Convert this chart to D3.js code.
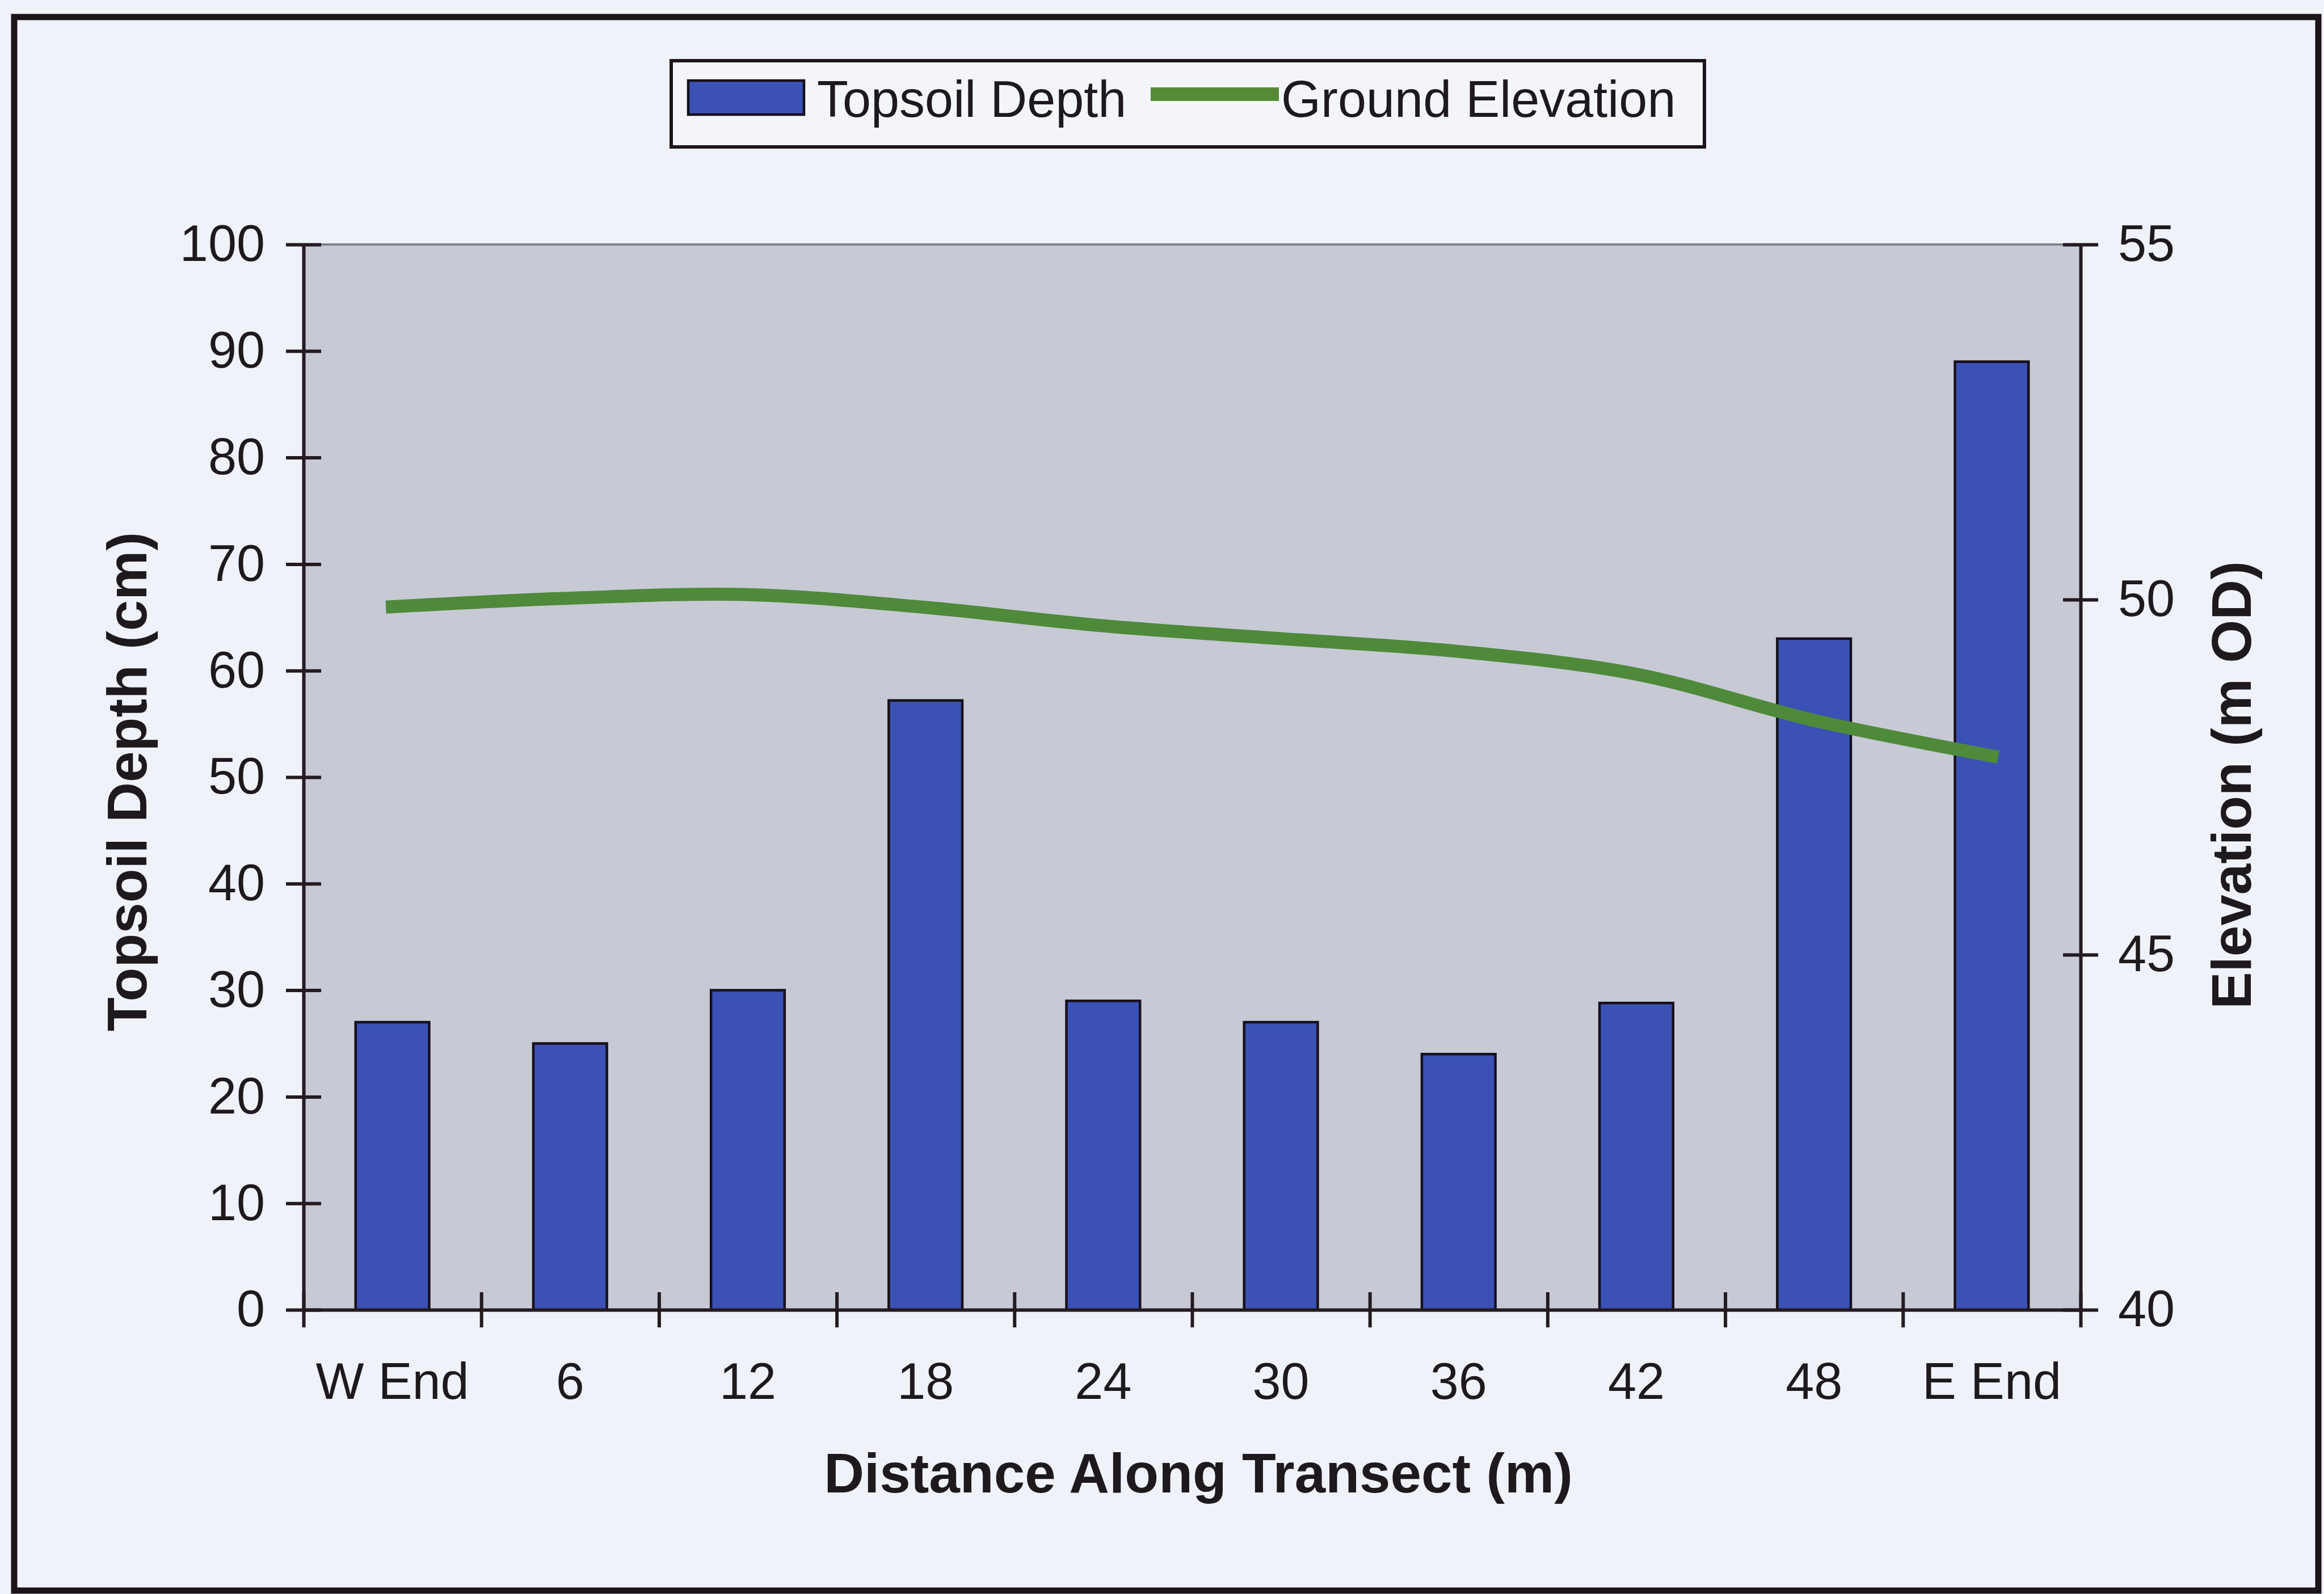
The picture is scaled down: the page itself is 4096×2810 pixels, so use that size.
<!DOCTYPE html>
<html>
<head>
<meta charset="utf-8">
<script src="https://cdn.jsdelivr.net/npm/d3@7"></script>
<style>
  html, body { margin: 0; padding: 0; background: #f0f2fa; }
  svg { display: block; }
</style>
</head>
<body>
<script>
// ---- data ----
const categories = ["W End", "6", "12", "18", "24", "30", "36", "42", "48", "E End"];
const topsoilDepth = [27, 25, 30, 57.2, 29, 27, 24, 28.8, 63, 89];          // cm
const groundElevation = [49.9, 50.02, 50.07, 49.89, 49.63, 49.45, 49.27, 48.95, 48.3, 47.8]; // m OD
const depthTicks = [0, 10, 20, 30, 40, 50, 60, 70, 80, 90, 100];
const elevationTicks = [40, 45, 50, 55];
const seriesNames = ["Topsoil Depth", "Ground Elevation"];
const xTitle = "Distance Along Transect (m)";
const yLeftTitle = "Topsoil Depth (cm)";
const yRightTitle = "Elevation (m OD)";

// ---- layout ----
const W = 4096, H = 2810;
const plot = { left: 535, right: 3667, top: 431, bottom: 2309 };
const FONT = "'Liberation Sans', Arial, Helvetica, sans-serif";
const ink = "#1e191d";
const axisColor = "#241b21";
const barFill = "#3b51b5";
const lineColor = "#4e8a3a";

const svg = d3.select("body").append("svg")
  .attr("width", W).attr("height", H)
  .attr("viewBox", `0 0 ${W} ${H}`);

// page background and outer frame
svg.append("rect").attr("width", W).attr("height", H).attr("fill", "#f0f2fa");
svg.append("rect")
  .attr("x", 25).attr("y", 30).attr("width", 4061).attr("height", 2774)
  .attr("fill", "none").attr("stroke", "#1c1418").attr("stroke-width", 11);

// scales
const x = d3.scaleBand().domain(categories).range([plot.left, plot.right]);
const xb = d3.scaleLinear().domain([0, categories.length]).range([plot.left, plot.right]);
const yL = d3.scaleLinear().domain([0, 100]).range([plot.bottom, plot.top]);
const yR = d3.scaleLinear().domain([40, 55]).range([plot.bottom, plot.top]);

// plot area
svg.append("rect")
  .attr("x", plot.left).attr("y", plot.top)
  .attr("width", plot.right - plot.left).attr("height", plot.bottom - plot.top)
  .attr("fill", "#c7c9d5");
svg.append("line")
  .attr("x1", plot.left).attr("x2", plot.right)
  .attr("y1", plot.top).attr("y2", plot.top)
  .attr("stroke", "#7f818d").attr("stroke-width", 4);

// bars
const barW = x.bandwidth() * 0.414;
svg.append("g").selectAll("rect")
  .data(categories)
  .join("rect")
  .attr("x", (d) => x(d) + (x.bandwidth() - barW) / 2)
  .attr("y", (d, i) => yL(topsoilDepth[i]))
  .attr("width", barW)
  .attr("height", (d, i) => yL(0) - yL(topsoilDepth[i]))
  .attr("fill", barFill)
  .attr("stroke", "#16101a")
  .attr("stroke-width", 4.5);

// elevation line (smoothed)
const line = d3.line()
  .x((d, i) => x(categories[i]) + x.bandwidth() / 2)
  .y((d) => yR(d))
  .curve(d3.curveCatmullRom.alpha(0.5));
svg.append("path")
  .datum(groundElevation)
  .attr("d", line)
  .attr("fill", "none")
  .attr("stroke", lineColor)
  .attr("stroke-width", 23)
  .attr("stroke-linecap", "square");

// styling helper for axes
function styleAxis(g) {
  g.attr("font-family", FONT).attr("font-size", 90).attr("color", axisColor);
  g.selectAll(".domain").attr("stroke-width", 6);
  g.selectAll(".tick line").attr("stroke-width", 6);
  g.selectAll(".tick text").attr("fill", ink);
}

// left axis (cross ticks)
const gL = svg.append("g")
  .attr("transform", `translate(${plot.left},0)`)
  .call(d3.axisLeft(yL).tickValues(depthTicks).tickSize(31).tickSizeOuter(0).tickPadding(37));
styleAxis(gL);
gL.selectAll(".tick line").attr("x1", 31);

// right axis (cross ticks)
const gR = svg.append("g")
  .attr("transform", `translate(${plot.right},0)`)
  .call(d3.axisRight(yR).tickValues(elevationTicks).tickSize(31).tickSizeOuter(0).tickPadding(35));
styleAxis(gR);
gR.selectAll(".tick line").attr("x1", -31);

// bottom axis: ticks between categories
const gB = svg.append("g")
  .attr("transform", `translate(0,${plot.bottom})`)
  .call(d3.axisBottom(xb).ticks(categories.length).tickSize(31).tickSizeOuter(0).tickFormat(""));
styleAxis(gB);
gB.selectAll(".tick line").attr("y1", -31);

// bottom axis: category labels
const gBL = svg.append("g")
  .attr("transform", `translate(0,${plot.bottom})`)
  .call(d3.axisBottom(x).tickSize(0).tickPadding(0));
styleAxis(gBL);
gBL.select(".domain").remove();
gBL.selectAll(".tick text").attr("y", 157).attr("dy", null);

// axis titles
svg.append("text")
  .attr("x", 2112).attr("y", 2631)
  .attr("text-anchor", "middle")
  .attr("font-family", FONT).attr("font-weight", "bold").attr("font-size", 98)
  .attr("fill", ink)
  .text(xTitle);

svg.append("text")
  .attr("transform", `translate(258,1378) rotate(-90)`)
  .attr("text-anchor", "middle")
  .attr("font-family", FONT).attr("font-weight", "bold").attr("font-size", 98)
  .attr("fill", ink)
  .text(yLeftTitle);

svg.append("text")
  .attr("transform", `translate(3967,1384) rotate(-90)`)
  .attr("text-anchor", "middle")
  .attr("font-family", FONT).attr("font-weight", "bold").attr("font-size", 98)
  .attr("fill", ink)
  .text(yRightTitle);

// legend
const lg = svg.append("g");
lg.append("rect")
  .attr("x", 1183).attr("y", 107).attr("width", 1821).attr("height", 152)
  .attr("fill", "#f4f5fb").attr("stroke", "#1c1418").attr("stroke-width", 6);
lg.append("rect")
  .attr("x", 1213).attr("y", 142).attr("width", 204).attr("height", 60)
  .attr("fill", barFill).attr("stroke", "#16101a").attr("stroke-width", 4.5);
lg.append("text")
  .attr("x", 1440).attr("y", 206)
  .attr("font-family", FONT).attr("font-size", 90).attr("fill", ink)
  .text(seriesNames[0]);
lg.append("line")
  .attr("x1", 2028).attr("x2", 2254).attr("y1", 166).attr("y2", 166)
  .attr("stroke", "#568a37").attr("stroke-width", 24);
lg.append("text")
  .attr("x", 2258).attr("y", 206)
  .attr("font-family", FONT).attr("font-size", 90).attr("fill", ink)
  .text(seriesNames[1]);
</script>
</body>
</html>
